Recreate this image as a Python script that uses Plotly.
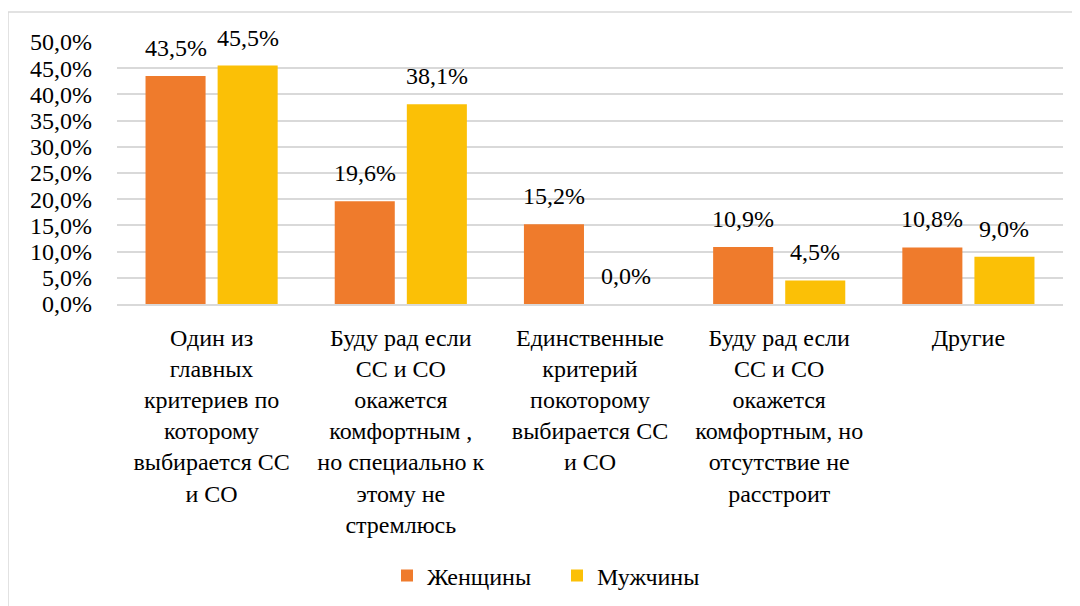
import plotly.graph_objects as go

categories = [
    "Один из<br>главных<br>критериев по<br>которому<br>выбирается СС<br>и СО",
    "Буду рад если<br>СС и СО<br>окажется<br>комфортным ,<br>но специально к<br>этому не<br>стремлюсь",
    "Единственные<br>критерий<br>покоторому<br>выбирается СС<br>и СО",
    "Буду рад если<br>СС и СО<br>окажется<br>комфортным, но<br>отсутствие не<br>расстроит",
    "Другие",
]
women = [43.5, 19.6, 15.2, 10.9, 10.8]
men = [45.5, 38.1, 0.0, 4.5, 9.0]
series_names = ["Женщины", "Мужчины"]
series_colors = ["#EF7B2C", "#FBC006"]
tick_vals = [0, 5, 10, 15, 20, 25, 30, 35, 40, 45, 50]

FONT = "Tinos, 'Times New Roman', 'Liberation Serif', 'DejaVu Serif', 'Noto Serif', serif"
FS = 24


def fmt(v):
    return f"{v:.1f}".replace(".", ",") + "%"


# page body has an 8px default margin: work in shifted coordinates
OFF = 8
W, H = 1080 - OFF, 606 - OFF
L, R, T, B = 117 - OFF, 1063 - OFF, 42 - OFF, 304 - OFF
plot_h = B - T
plot_w = R - L
slot = plot_w / len(categories) * (1 - 0.238) / 2  # px width of one bar slot

fig = go.Figure()
annotations = []
for i, (name, vals, col) in enumerate(zip(series_names, [women, men], series_colors)):
    fig.add_trace(go.Bar(
        name=name, x=categories, y=vals,
        marker=dict(color=col, line=dict(width=0)),
        cliponaxis=False,
    ))
    shift = (i - 0.5) * slot
    for c, v in zip(categories, vals):
        annotations.append(dict(
            x=c, y=v, xref="x", yref="y", text=fmt(v), showarrow=False,
            xanchor="center", yanchor="middle", xshift=shift, yshift=28,
            font=dict(family=FONT, size=FS, color="#000000"),
        ))

fig.update_layout(
    width=W, height=H,
    margin=dict(l=L, r=W - R, t=T, b=H - B, pad=0, autoexpand=False),
    paper_bgcolor="white", plot_bgcolor="white",
    barmode="group", bargap=0.238, bargroupgap=0.167,
    separators=",.",
    font=dict(family=FONT, size=FS, color="#000000"),
    showlegend=True,
    legend=dict(orientation="h", x=(557 - 117) / 946, xanchor="center",
                y=(B - (576 - OFF)) / plot_h, yanchor="middle",
                font=dict(family=FONT, size=FS, color="#000000"),
                itemwidth=30, tracegroupgap=0,
                entrywidth=125, entrywidthmode="pixels"),
    annotations=annotations,
    shapes=[dict(type="rect", xref="paper", yref="paper",
                 x0=(8 - OFF - L) / plot_w, x1=(1100 - L) / plot_w,
                 y0=(B - 620) / plot_h, y1=(B - (12 - OFF)) / plot_h,
                 line=dict(color="#D9D9D9", width=1.5), fillcolor="rgba(0,0,0,0)",
                 layer="below")],
)
fig.update_xaxes(showgrid=False, showline=True, linecolor="#D9D9D9", linewidth=1.5,
                 ticks="", tickangle=0, ticklabelstandoff=11, automargin=False,
                 tickfont=dict(family=FONT, size=FS, color="#000000"))
fig.update_yaxes(range=[0, 50], tickvals=tick_vals, ticktext=[fmt(v) for v in tick_vals],
                 showgrid=True, gridcolor="#D9D9D9", gridwidth=1.5,
                 zeroline=False, showline=False, ticks="",
                 ticklabelstandoff=24, automargin=False,
                 tickfont=dict(family=FONT, size=FS, color="#000000"))

fig.write_html("out.html")
